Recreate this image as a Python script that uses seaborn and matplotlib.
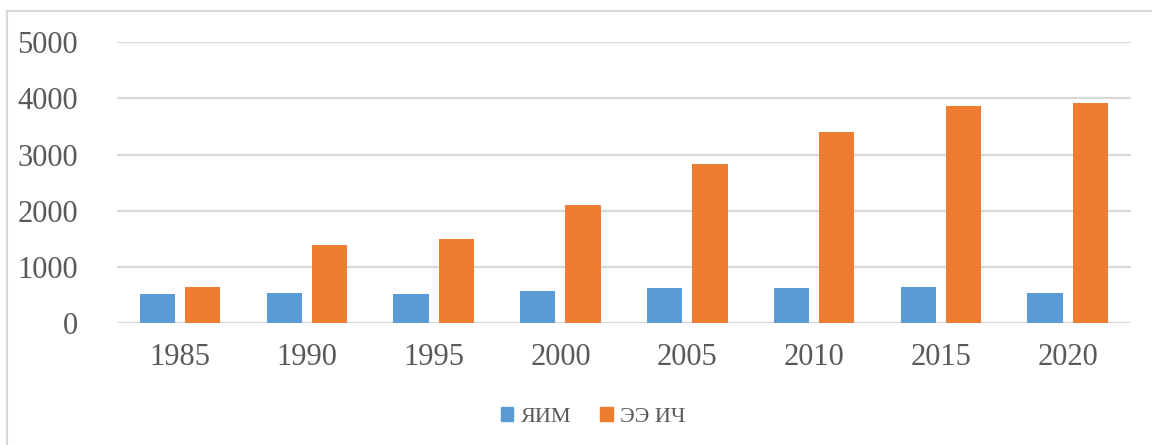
import matplotlib
matplotlib.use("Agg")
import matplotlib.pyplot as plt
from matplotlib.patches import Rectangle
import seaborn as sns
import pandas as pd

years = ["1985", "1990", "1995", "2000", "2005", "2010", "2015", "2020"]
yim = [520, 545, 520, 575, 630, 630, 640, 545]
ee_ich = [650, 1400, 1490, 2110, 2830, 3400, 3870, 3910]
series_names = ["ЯИМ", "ЭЭ ИЧ"]
colors = ["#5B9BD5", "#ED7D31"]
y_ticks = [0, 1000, 2000, 3000, 4000, 5000]

df = pd.DataFrame({
    "year": years * 2,
    "value": yim + ee_ich,
    "series": [series_names[0]] * len(years) + [series_names[1]] * len(years),
})

sns.set_theme(style="white")
plt.rcParams["font.family"] = ["Liberation Serif", "DejaVu Serif"]

fig = plt.figure(figsize=(11.52, 4.45), dpi=100)
ax = fig.add_axes([0.1013, 0.2735, 0.8805, 0.6321])

sns.barplot(data=df, x="year", y="value", hue="series", order=years,
            hue_order=series_names, palette=colors, width=0.714, gap=0.22,
            saturation=1, edgecolor="none", legend=False, ax=ax)

ax.set_ylim(0, 5000)
ax.set_xlim(-0.5, len(years) - 0.5)
ax.set_yticks(y_ticks)
ax.set_yticklabels([str(t) for t in y_ticks])
ax.set_xlabel("")
ax.set_ylabel("")
ax.yaxis.grid(True, color="#d9d9d9", linewidth=1.6)
ax.set_axisbelow(True)
for s in ax.spines.values():
    s.set_visible(False)
ax.tick_params(axis="both", length=0, labelsize=22, labelcolor="#595959")
ax.tick_params(axis="y", pad=28)
ax.tick_params(axis="x", pad=14)

# legend below the plot
handles = [Rectangle((0, 0), 1, 1, color=c) for c in colors]
fig.legend(handles, series_names, loc="center", bbox_to_anchor=(0.515, 0.063),
           ncol=2, frameon=False, fontsize=16, handlelength=0.55, handleheight=0.55,
           handletextpad=0.35, columnspacing=1.3, labelcolor="#595959")

# outer chart frame
fig.patches.append(Rectangle((7 / 1152, -0.05), 1.2, 1 - 11 / 445 + 0.05,
                             transform=fig.transFigure, fill=False,
                             edgecolor="#d9d9d9", linewidth=1.5))

fig.savefig("out.png", dpi=100)
